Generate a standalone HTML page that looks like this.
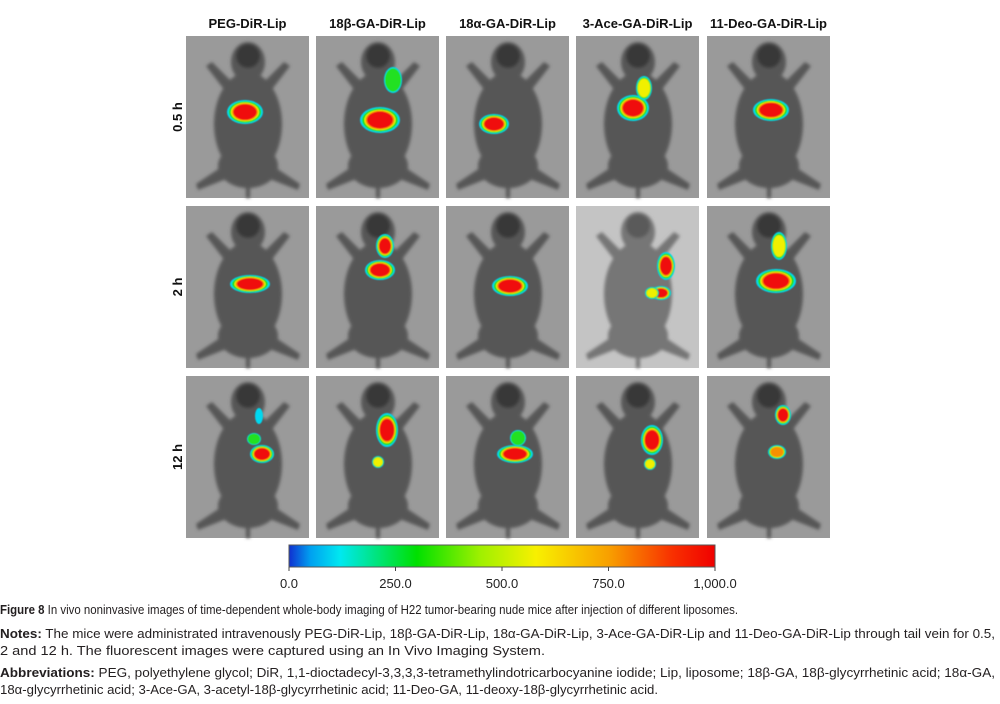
<!DOCTYPE html>
<html><head><meta charset="utf-8"><style>
body{margin:0;background:#fff;}
svg{display:block;font-family:"Liberation Sans",sans-serif;}
</style></head><body>
<svg id="fig" width="1000" height="704" viewBox="0 0 1000 704">
<defs>
<linearGradient id="cbar" x1="0" x2="1" y1="0" y2="0">
<stop offset="0" stop-color="#1030d0"/><stop offset="0.05" stop-color="#00a0f0"/><stop offset="0.12" stop-color="#00e8f0"/>
<stop offset="0.3" stop-color="#00e000"/><stop offset="0.45" stop-color="#a0f000"/><stop offset="0.58" stop-color="#f8f000"/>
<stop offset="0.75" stop-color="#f8a000"/><stop offset="0.9" stop-color="#f83000"/><stop offset="1" stop-color="#f00000"/>
</linearGradient>
<filter id="blur1"><feGaussianBlur stdDeviation="1.6"/></filter>
<filter id="blur2"><feGaussianBlur stdDeviation="0.6"/></filter>
</defs>
<g id="panels"></g>
<g id="cb"></g>
<g font-size="13" fill="#231f20">
<text x="0" y="614" textLength="738" lengthAdjust="spacingAndGlyphs"><tspan font-weight="bold">Figure 8</tspan> In vivo noninvasive images of time-dependent whole-body imaging of H22 tumor-bearing nude mice after injection of different liposomes.</text>
<text x="0" y="638" textLength="995" lengthAdjust="spacingAndGlyphs"><tspan font-weight="bold">Notes:</tspan> The mice were administrated intravenously PEG-DiR-Lip, 18β-GA-DiR-Lip, 18α-GA-DiR-Lip, 3-Ace-GA-DiR-Lip and 11-Deo-GA-DiR-Lip through tail vein for 0.5,</text>
<text x="0" y="655" textLength="545" lengthAdjust="spacingAndGlyphs">2 and 12 h. The fluorescent images were captured using an In Vivo Imaging System.</text>
<text x="0" y="677" textLength="995" lengthAdjust="spacingAndGlyphs"><tspan font-weight="bold">Abbreviations:</tspan> PEG, polyethylene glycol; DiR, 1,1-dioctadecyl-3,3,3,3-tetramethylindotricarbocyanine iodide; Lip, liposome; 18β-GA, 18β-glycyrrhetinic acid; 18α-GA,</text>
<text x="0" y="694" textLength="658" lengthAdjust="spacingAndGlyphs">18α-glycyrrhetinic acid; 3-Ace-GA, 3-acetyl-18β-glycyrrhetinic acid; 11-Deo-GA, 11-deoxy-18β-glycyrrhetinic acid.</text>
</g>
</svg>
<script>
const groups=["PEG-DiR-Lip","18β-GA-DiR-Lip","18α-GA-DiR-Lip","3-Ace-GA-DiR-Lip","11-Deo-GA-DiR-Lip"];
const times=["0.5 h","2 h","12 h"];
const ticks=[0,250,500,750,1000];
const tickLabels=["0.0","250.0","500.0","750.0","1,000.0"];
// signal blobs per panel: [row,col,relX,relY,rx,ry,peak(0-1000)]
const blobs=[
[0,0,59,76,18,12,1000],
[0,1,64,84,20,13,1000],[0,1,77,44,9,13,300],
[0,2,48,88,15,10,1000],
[0,3,57,72,16,13,1000],[0,3,68,52,8,12,600],
[0,4,64,74,18,11,1000],
[1,0,64,78,20,9,1000],
[1,1,64,64,15,10,1000],[1,1,69,40,9,12,800],
[1,2,64,80,18,10,1000],
[1,3,90,60,9,14,850],[1,3,85,87,10,7,1000],[1,3,76,87,7,6,500],
[1,4,69,75,20,12,1000],[1,4,72,40,8,14,550],
[2,0,76,78,12,9,900],[2,0,68,63,7,6,250],[2,0,73,40,4,8,120],
[2,1,71,54,11,17,1000],[2,1,62,86,6,6,500],
[2,2,69,78,18,9,1000],[2,2,72,62,8,8,200],
[2,3,76,64,11,15,1000],[2,3,74,88,6,6,500],
[2,4,76,39,8,10,850],[2,4,70,76,9,7,750]
];
const colX=[186,316,446,576,707], rowY=[36,206,376], PW=123, PH=162;
const NS="http://www.w3.org/2000/svg";
function mk(t,a,p){const e=document.createElementNS(NS,t);for(const k in a)e.setAttribute(k,a[k]);p.appendChild(e);return e;}
const P=document.getElementById('panels');
groups.forEach((g,c)=>{
 const t=mk('text',{x:colX[c]+PW/2,y:28,'text-anchor':'middle','font-size':13,'font-weight':'bold',fill:'#111'},P);
 t.textContent=g;
 
 
});
times.forEach((tm,r)=>{
 const cy=rowY[r]+PH/2;
 const t=mk('text',{x:0,y:0,transform:`translate(182,${cy}) rotate(-90)`,'text-anchor':'middle','font-size':13,'font-weight':'bold',fill:'#111'},P);
 t.textContent=tm;
 
 
});
for(let r=0;r<3;r++)for(let c=0;c<5;c++){
 const x=colX[c],y=rowY[r];
 const g=mk('g',{transform:`translate(${x},${y})`},P);
 
 
 const light=(r===1&&c===3);
 mk('rect',{x:0,y:0,width:PW,height:PH,fill:light?'#c4c4c4':'#9a9a9a'},g);
 const m=mk('g',{fill:light?'#767676':'#575757',filter:'url(#blur1)'},g);
 mk('ellipse',{cx:62,cy:88,rx:34,ry:52},m);
 mk('ellipse',{cx:62,cy:26,rx:17,ry:20},m);
 mk('ellipse',{cx:62,cy:130,rx:30,ry:22},m);
 mk('path',{d:'M40 56 L20 30 L26 26 L48 48 Z'},m);
 mk('path',{d:'M84 56 L104 30 L98 26 L76 48 Z'},m);
 mk('path',{d:'M40 128 L10 148 L12 154 L48 140 Z'},m);
 mk('path',{d:'M84 128 L114 148 L112 154 L76 140 Z'},m);
 mk('rect',{x:60,y:140,width:4,height:22},m);
 mk('ellipse',{cx:62,cy:20,rx:12,ry:12,fill:light?'#5a5a5a':'#383838'},m);
}
blobs.forEach(b=>{
 const [r,c,bx,by,rx,ry,pk]=b;
 const g=mk('g',{transform:`translate(${colX[c]+bx},${rowY[r]+by})`,filter:'url(#blur2)'},P);
 
 
 const layers=[[1.0,'#00d8f0',0],[0.9,'#20e020',200],[0.78,'#f0f000',450],[0.72,'#f89000',650],[0.65,'#f01010',800]];
 layers.forEach(L=>{ if(pk>=L[2]) mk('ellipse',{cx:0,cy:0,rx:rx*L[0],ry:ry*L[0],fill:L[1]},g); });
});
const CB=document.getElementById('cb');
const cbX=289,cbW=426,cbY=545,cbH=22;
const bar=mk('rect',{x:cbX,y:cbY,width:cbW,height:cbH,fill:'url(#cbar)',stroke:'#555','stroke-width':1},CB);


const sx=v=>cbX+v/1000*cbW;
ticks.forEach((v,i)=>{
 mk('line',{x1:sx(v),x2:sx(v),y1:cbY+cbH,y2:cbY+cbH+4,stroke:'#444'},CB);
 const t=mk('text',{x:sx(v),y:588,'text-anchor':'middle','font-size':13,fill:'#222'},CB);
 t.textContent=tickLabels[i];
 
 
});
</script>
</body></html>
